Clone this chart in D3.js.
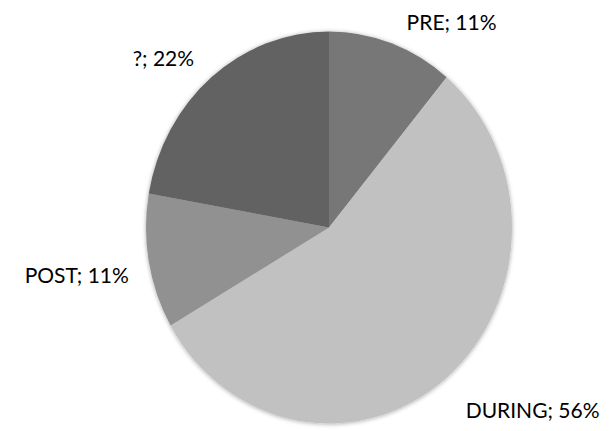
<!DOCTYPE html>
<html>
<head>
<meta charset="utf-8">
<script src="https://cdn.jsdelivr.net/npm/d3@7/dist/d3.min.js"></script>
<style>
  html, body { margin: 0; padding: 0; background: #fff; }
  svg { display: block; }
  text { font-family: Lato, "Open Sans", sans-serif; fill: #000; }
</style>
</head>
<body>
<svg id="chart" width="614" height="431"></svg>
<script>
// Phase of each observation, counted over 9 cases
const categories = ["PRE", "DURING", "POST", "?"];
const counts = [1, 5, 1, 2];
const colors = ["#777777", "#c1c1c1", "#919191", "#626262"];
// label nudges from the rim point at each slice's middle angle
const labelNudge = [[60, -22], [86, 32], [-72, 13], [-48, -20]];

const width = 614, height = 431;
const cx = 329, cy = 227.5, rx = 183, ry = 196;

const svg = d3.select("#chart");

const defs = svg.append("defs");
const f = defs.append("filter").attr("id", "soft")
  .attr("x", "-10%").attr("y", "-10%").attr("width", "120%").attr("height", "120%");
f.append("feDropShadow").attr("dx", 0).attr("dy", 0.5)
  .attr("stdDeviation", 2).attr("flood-color", "#000").attr("flood-opacity", 0.35);

const total = d3.sum(counts);
const data = categories.map((c, i) => ({ name: c, value: counts[i], color: colors[i], nudge: labelNudge[i] }));

const pie = d3.pie().value(d => d.value).sort(null);
const arcs = pie(data);
const arc = d3.arc().innerRadius(0).outerRadius(rx);

const g = svg.append("g")
  .attr("transform", `translate(${cx},${cy}) scale(1,${ry / rx})`)
  .attr("filter", "url(#soft)");

g.selectAll("path").data(arcs).join("path")
  .attr("d", arc)
  .attr("fill", d => d.data.color);

const pct = d3.format(".0%");

svg.selectAll("text.lbl").data(arcs).join("text")
  .attr("class", "lbl")
  .attr("x", d => {
    const a = (d.startAngle + d.endAngle) / 2;
    return cx + rx * Math.sin(a) + d.data.nudge[0];
  })
  .attr("y", d => {
    const a = (d.startAngle + d.endAngle) / 2;
    return cy - ry * Math.cos(a) + d.data.nudge[1];
  })
  .attr("text-anchor", "middle")
  .attr("dominant-baseline", "central")
  .attr("font-size", 21)
  .text(d => `${d.data.name}; ${pct(d.data.value / total)}`);
</script>
</body>
</html>
